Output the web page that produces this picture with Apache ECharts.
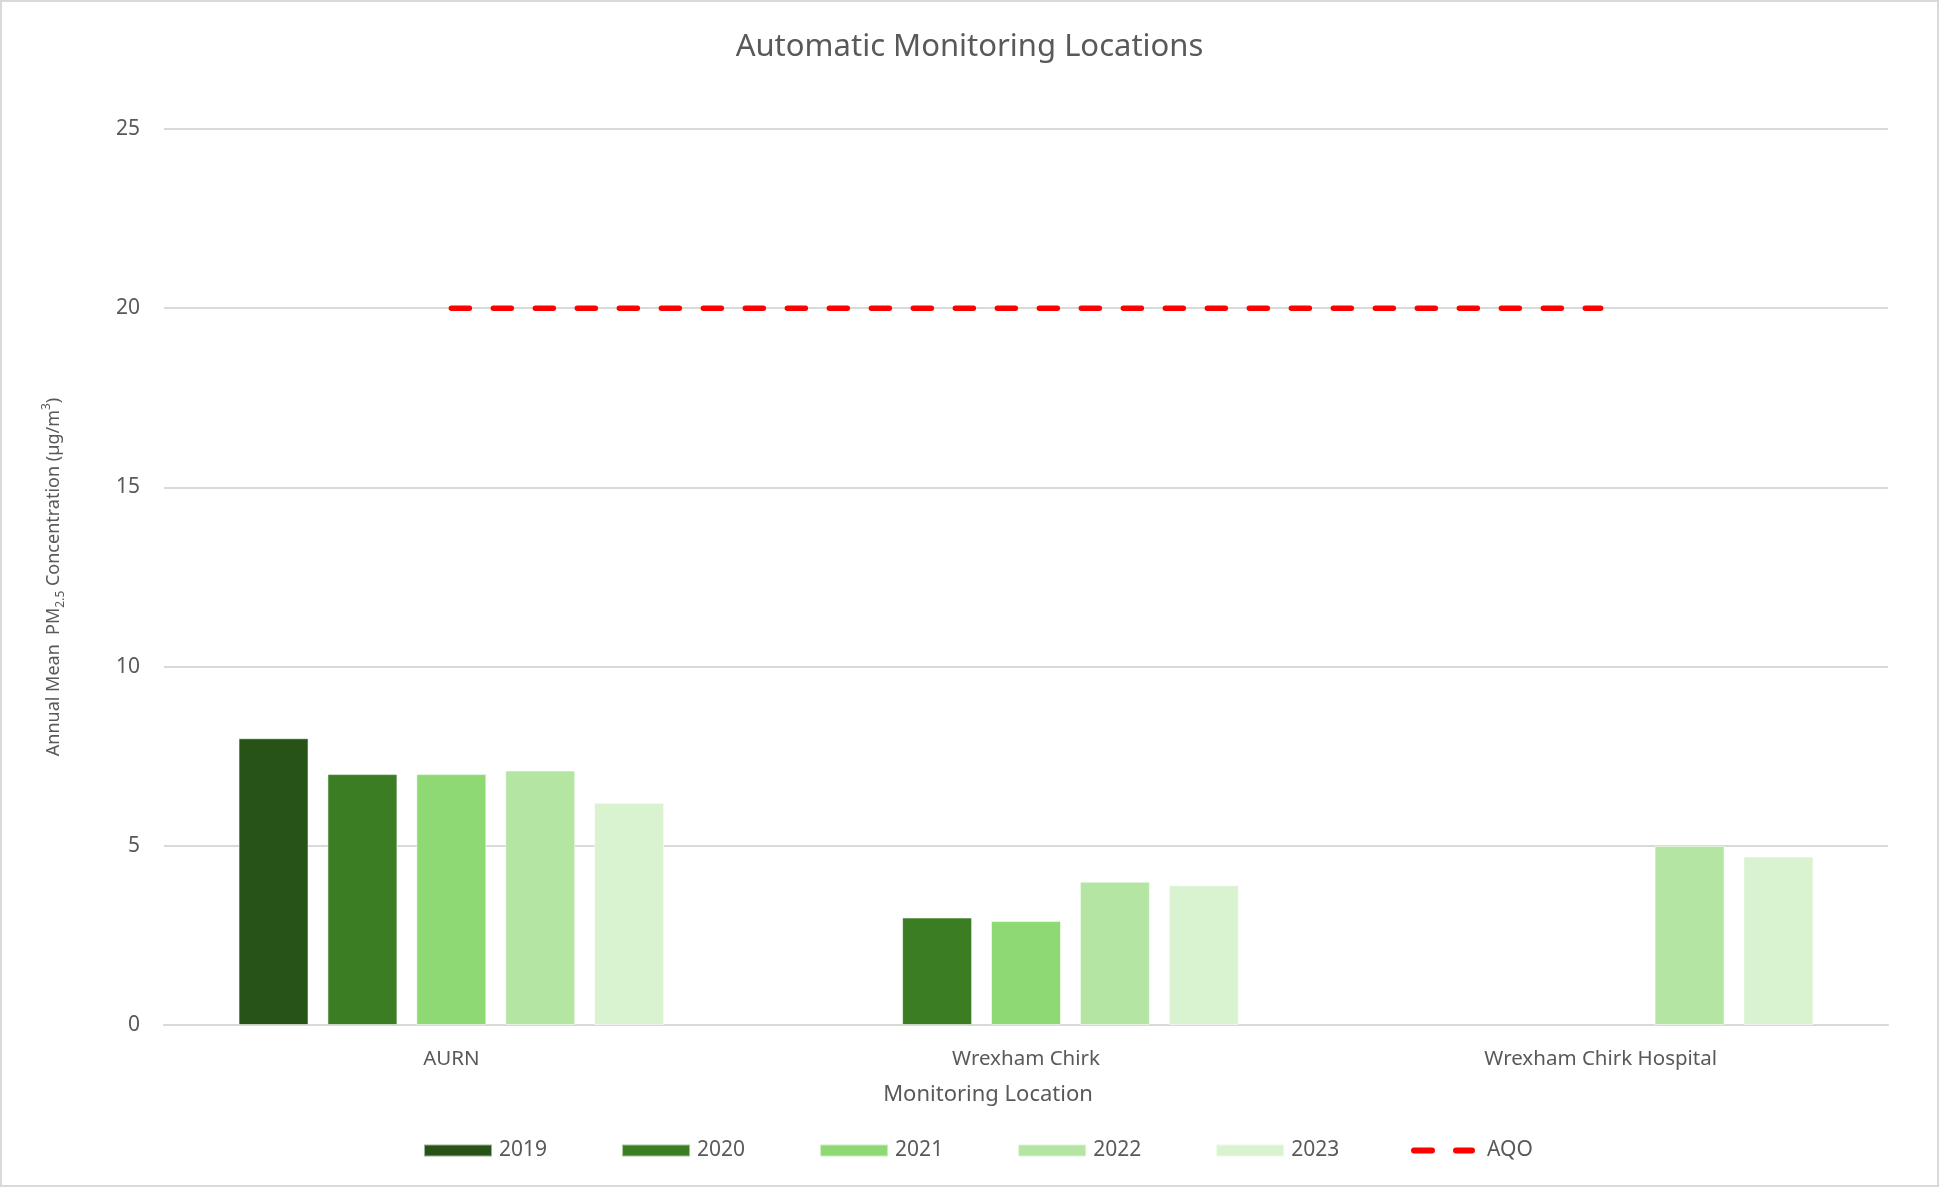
<!DOCTYPE html>
<html>
<head>
<meta charset="utf-8">
<title>Automatic Monitoring Locations</title>
<script src="https://cdn.jsdelivr.net/npm/echarts@6/dist/echarts.min.js"></script>
<style>
  html, body { margin: 0; padding: 0; background: #fff; }
  #chart {
    width: 1939px;
    height: 1187px;
    box-sizing: border-box;
    border: 2px solid #d9d9d9;
  }
</style>
</head>
<body>
<div id="chart"></div>
<script>
var locations = ['AURN', 'Wrexham Chirk', 'Wrexham Chirk Hospital'];
var years = ['2019', '2020', '2021', '2022', '2023'];
// annual means per year, one value per location (null = not monitored)
var pm2019 = [8.0, null, null];
var pm2020 = [7.0, 3.0, null];
var pm2021 = [7.0, 2.9, null];
var pm2022 = [7.1, 4.0, 5.0];
var pm2023 = [6.2, 3.9, 4.7];
var aqo = [20, 20, 20];
var yTicks = [0, 5, 10, 15, 20, 25];

var yearColors = ['#275317', '#3b7d23', '#8ed973', '#b4e5a2', '#d9f2d0'];
var yearData = [pm2019, pm2020, pm2021, pm2022, pm2023];

window.onload = function () {
  var chart = echarts.init(document.getElementById('chart'));
  var font = '"Noto Sans", sans-serif';

  var series = [];
  for (var i = 0; i < years.length; i++) {
    series.push({
      name: years[i],
      type: 'bar',
      barWidth: 70,
      barGap: '27%',
      data: yearData[i],
      itemStyle: {
        color: yearColors[i],
        borderColor: 'rgba(255,255,255,0.55)',
        borderWidth: 1
      }
    });
  }
  series.push({
    name: 'AQO',
    type: 'line',
    data: aqo,
    symbol: 'none',
    z: 5,
    lineStyle: {
      color: '#ff0000',
      width: 5.5,
      type: [18, 24],
      cap: 'round'
    },
    itemStyle: { color: '#ff0000' }
  });

  // two rounded dashes for the AQO key
  var dashIcon = 'path://M3,0H21A3,3 0 0 1 21,6H3A3,3 0 0 1 3,0ZM45,0H61A3,3 0 0 1 61,6H45A3,3 0 0 1 45,0Z';

  var option = {
    animation: false,
    textStyle: { fontFamily: font },
    title: {
      text: 'Automatic Monitoring Locations',
      left: 'center',
      top: 25,
      textStyle: {
        fontFamily: font,
        fontSize: 31,
        fontWeight: 'normal',
        color: '#595959'
      }
    },
    legend: [
      {
        left: 416,
        top: 1133,
        itemWidth: 68,
        itemHeight: 12,
        itemGap: 74,
        icon: 'rect',
        data: years,
        textStyle: { fontFamily: font, fontSize: 21, color: '#595959', padding: [0, 0, 0, 2] }
      },
      {
        left: 1404,
        top: 1133,
        itemWidth: 64,
        itemHeight: 6,
        data: [{ name: 'AQO', icon: dashIcon }],
        textStyle: { fontFamily: font, fontSize: 21, color: '#595959', padding: [0, 0, 0, 7] }
      }
    ],
    grid: {
      left: 162,
      right: 49,
      top: 127,
      bottom: 160
    },
    xAxis: {
      type: 'category',
      data: locations,
      axisLine: { lineStyle: { color: '#d9d9d9', width: 2 } },
      axisTick: { show: false },
      axisLabel: {
        fontFamily: font,
        fontSize: 20.5,
        color: '#595959',
        margin: 24
      }
    },
    yAxis: {
      type: 'value',
      min: yTicks[0],
      max: yTicks[yTicks.length - 1],
      interval: 5,
      axisLine: { show: false },
      axisTick: { show: false },
      splitLine: { lineStyle: { color: '#d9d9d9', width: 2 } },
      axisLabel: {
        fontFamily: font,
        fontSize: 21,
        color: '#595959',
        margin: 24
      },
      name: '{n|Annual Mean  PM}{sub|2.5}{n| Concentration (µg/m}{sup|3}{n|)}',
      nameLocation: 'middle',
      nameGap: 97,
      nameRotate: 90,
      nameTextStyle: {
        rich: {
          n: { fontFamily: font, fontSize: 18, color: '#595959', verticalAlign: 'middle', lineHeight: 26 },
          sub: { fontFamily: font, fontSize: 12, color: '#595959', verticalAlign: 'bottom', lineHeight: 26 },
          sup: { fontFamily: font, fontSize: 12, color: '#595959', verticalAlign: 'top', lineHeight: 26 }
        }
      }
    },
    graphic: [
      {
        type: 'text',
        x: 986,
        y: 1082,
        style: {
          text: 'Monitoring Location',
          font: '22px "Noto Sans", sans-serif',
          fill: '#595959',
          align: 'center'
        }
      }
    ],
    series: series
  };

  chart.setOption(option);
};
</script>
</body>
</html>
